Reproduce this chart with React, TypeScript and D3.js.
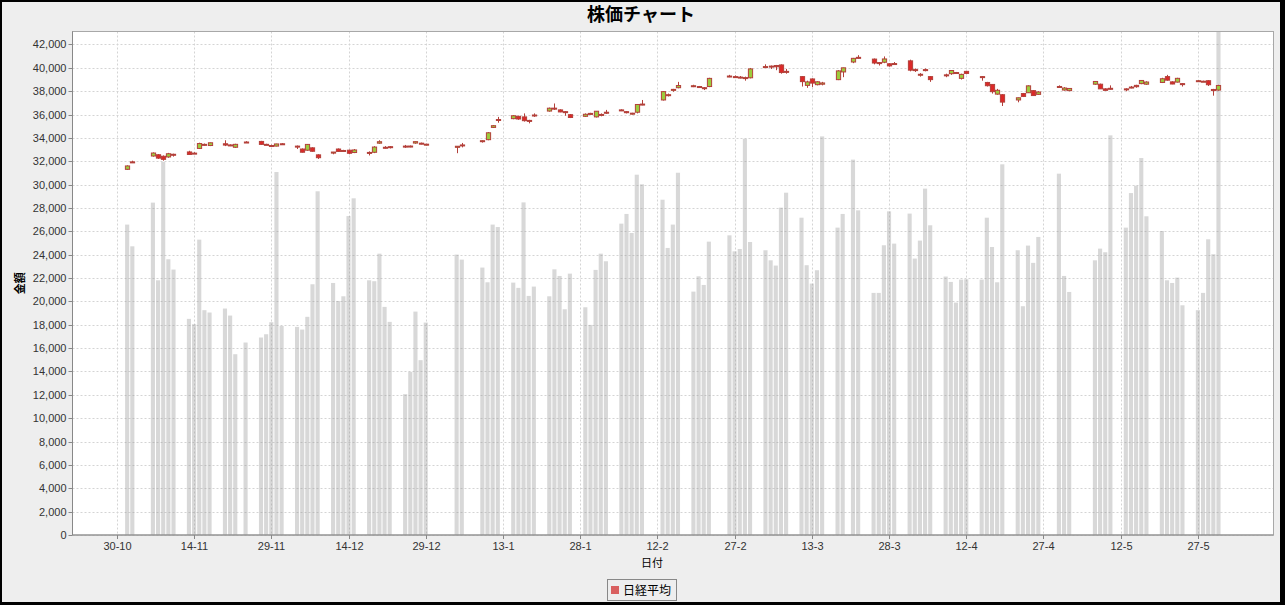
import React from "react";
import * as d3 from "d3";

// ---- data (Nikkei average, daily) ----
const dates = [
  "2023-11-01","2023-11-02","2023-11-06","2023-11-07","2023-11-08","2023-11-09","2023-11-10",
  "2023-11-13","2023-11-14","2023-11-15","2023-11-16","2023-11-17","2023-11-20","2023-11-21","2023-11-22","2023-11-24",
  "2023-11-27","2023-11-28","2023-11-29","2023-11-30","2023-12-01",
  "2023-12-04","2023-12-05","2023-12-06","2023-12-07","2023-12-08",
  "2023-12-11","2023-12-12","2023-12-13","2023-12-14","2023-12-15",
  "2023-12-18","2023-12-19","2023-12-20","2023-12-21","2023-12-22",
  "2023-12-25","2023-12-26","2023-12-27","2023-12-28","2023-12-29",
  "2024-01-04","2024-01-05","2024-01-09","2024-01-10","2024-01-11","2024-01-12",
  "2024-01-15","2024-01-16","2024-01-17","2024-01-18","2024-01-19",
  "2024-01-22","2024-01-23","2024-01-24","2024-01-25","2024-01-26",
  "2024-01-29","2024-01-30","2024-01-31","2024-02-01","2024-02-02",
  "2024-02-05","2024-02-06","2024-02-07","2024-02-08","2024-02-09",
  "2024-02-13","2024-02-14","2024-02-15","2024-02-16",
  "2024-02-19","2024-02-20","2024-02-21","2024-02-22",
  "2024-02-26","2024-02-27","2024-02-28","2024-02-29","2024-03-01",
  "2024-03-04","2024-03-05","2024-03-06","2024-03-07","2024-03-08",
  "2024-03-11","2024-03-12","2024-03-13","2024-03-14","2024-03-15",
  "2024-03-18","2024-03-19","2024-03-21","2024-03-22",
  "2024-03-25","2024-03-26","2024-03-27","2024-03-28","2024-03-29",
  "2024-04-01","2024-04-02","2024-04-03","2024-04-04","2024-04-05",
  "2024-04-08","2024-04-09","2024-04-10","2024-04-11","2024-04-12",
  "2024-04-15","2024-04-16","2024-04-17","2024-04-18","2024-04-19",
  "2024-04-22","2024-04-23","2024-04-24","2024-04-25","2024-04-26",
  "2024-04-30","2024-05-01","2024-05-02",
  "2024-05-07","2024-05-08","2024-05-09","2024-05-10",
  "2024-05-13","2024-05-14","2024-05-15","2024-05-16","2024-05-17",
  "2024-05-20","2024-05-21","2024-05-22","2024-05-23","2024-05-24",
  "2024-05-27","2024-05-28","2024-05-29","2024-05-30","2024-05-31",
];

const opens = [
  31311,31950,32450,32560,32430,32370,32600,
  32800,32700,33100,33450,33350,33500,33400,33200,33650,
  33700,33450,33350,33300,33500,
  33300,33050,32950,33150,32550,
  32700,33050,32900,32950,32750,
  32750,32770,33550,33200,33250,
  33300,33300,33560,33550,33450,
  33193,33400,33700,33850,34900,35500,
  35650,35850,35800,35500,35900,
  36300,36550,36400,36250,35990,
  35850,36100,35800,36000,36200,
  36400,36250,36100,36200,36900,
  37250,37700,38100,38300,
  38450,38400,38300,38400,
  39300,39250,39200,39100,39150,
  40100,40150,40200,40250,39700,
  39250,38500,39050,38560,38600,
  38990,39650,40500,40900,
  40750,40450,40480,40350,40350,
  40600,39850,39450,39850,39250,
  39400,39500,39600,39100,39700,
  39250,38750,38580,37750,37700,
  37250,37800,37870,38050,37730,
  38400,38100,38050,
  38600,38600,38200,38250,
  38200,38350,38500,38650,38600,
  38750,39250,38800,38780,38650,
  38850,38850,38900,38150,38100,
];

const highs = [
  31650,32050,32760,32620,32500,32720,32650,
  32900,32780,33590,33520,33600,33800,33450,33500,33720,
  33750,33500,33420,33500,33550,
  33350,33100,33480,33200,32600,
  32800,33100,32980,33000,33050,
  32850,33290,33800,33300,33300,
  33400,33350,33700,33600,33500,
  33300,33570,33800,34500,35100,35800,
  35950,35900,36100,35550,36100,
  36600,36950,36450,36300,36050,
  36100,36150,36300,36100,36400,
  36450,36300,36150,36900,37250,
  38000,37800,38200,38800,
  38550,38450,38350,39150,
  39400,39350,39300,39250,39990,
  40300,40200,40250,40300,39900,
  39300,38900,39100,38850,38800,
  39800,40010,40850,41087,
  40800,40500,40980,40400,40500,
  40700,39950,39550,39950,39300,
  39500,39800,39650,39500,39750,
  39300,38800,38600,38200,37750,
  37450,37850,38500,38100,38000,
  38500,38350,38270,
  38850,38650,38250,38500,
  38250,38450,38550,38950,38850,
  39150,39400,38850,39150,38700,
  38950,38900,38950,38200,38550,
];

const lows = [
  31270,31850,32400,32200,32050,32300,32400,
  32550,32650,33050,33350,33300,33300,33300,33150,33580,
  33400,33380,33280,33280,33400,
  33050,32750,32900,32820,32200,
  32600,32800,32850,32600,32700,
  32500,32700,33500,33100,33100,
  33150,33200,33500,33450,33350,
  32693,33190,33600,33800,34850,35300,
  35600,35550,35400,35250,35800,
  36250,36400,36200,35900,35700,
  35800,36000,35750,35850,36050,
  36300,36100,36000,36100,36800,
  37200,37550,37950,38250,
  38350,38300,38100,38350,
  39200,39150,39100,38900,39100,
  40000,39900,39800,39500,39500,
  38400,38290,38350,38500,38500,
  38950,39200,40400,40800,
  40300,40200,40400,40100,40300,
  39700,39650,39250,39700,38800,
  39200,39400,39500,39000,39450,
  38900,38400,37800,37700,36733,
  37050,37500,37850,37600,37700,
  38300,38050,38000,
  38550,38200,38050,38150,
  38000,38250,38300,38600,38550,
  38700,38900,38600,38750,38400,
  38800,38800,38450,37617,38050,
];

const closes = [
  31601,31949,32708,32271,32166,32646,32568,
  32585,32695,33519,33424,33585,33388,33354,33451,33625,
  33447,33408,33321,33486,33431,
  33231,32775,33445,32858,32307,
  32791,32843,32926,32686,32970,
  32758,33219,33675,33140,33169,
  33254,33305,33681,33539,33464,
  33288,33377,33763,34441,35049,35577,
  35901,35619,35477,35466,35963,
  36546,36517,36226,36236,35751,
  36026,36065,36286,36011,36158,
  36354,36160,36119,36863,36897,
  37963,37703,38157,38487,
  38470,38363,38262,39098,
  39233,39239,39208,39166,39910,
  40109,40097,40090,39598,39688,
  38820,38797,38695,38807,38707,
  39740,40003,40815,40888,
  40414,40398,40762,40168,40369,
  39803,39838,39451,39773,38992,
  39347,39773,39581,39442,39523,
  39232,38471,37961,38079,37068,
  37438,37552,38460,37628,37934,
  38405,38274,38236,
  38835,38202,38073,38229,
  38179,38356,38385,38920,38787,
  39069,38946,38617,39103,38646,
  38900,38855,38556,38054,38487,
];

const volumes = [
  26580,24720,28460,21810,31950,23610,22730,
  18505,18050,25290,19250,19050,19390,18790,15480,16480,
  16910,17190,18220,31080,17900,
  17820,17590,18680,21470,29430,
  21580,20040,20440,27310,28830,
  21810,21730,24090,19530,18250,
  12060,13970,19130,14970,18190,
  24010,23580,22900,21640,26580,26370,
  21610,21160,28480,20470,21270,
  20440,22750,22180,19330,22380,
  19500,17990,22700,24090,23440,
  26660,27490,25860,30850,30030,
  28710,24580,26580,31020,
  20840,22150,21410,25120,
  25660,24290,24490,33930,25090,
  24380,23520,23070,28030,29310,
  27170,23100,21530,22670,34130,
  26320,27490,32140,27800,
  20730,20730,24810,27710,24950,
  27520,23670,25210,29660,26520,
  22130,21670,19900,21870,21900,
  21870,27170,24660,21640,31740,
  24380,19590,24780,23300,25520,
  30940,22180,20810,
  23520,24520,24210,34220,
  26320,29280,29910,32280,27290,
  26030,21810,21580,22040,19670,
  19250,20730,25320,24040,46000,
];

const xTickDates = [
  "2023-10-30","2023-11-14","2023-11-29","2023-12-14","2023-12-29",
  "2024-01-13","2024-01-28","2024-02-12","2024-02-27","2024-03-13",
  "2024-03-28","2024-04-12","2024-04-27","2024-05-12","2024-05-27",
];
const yTicks = d3.range(0, 42001, 2000);

const titleText = "株価チャート";
const yTitle = "金額";
const xTitle = "日付";
const seriesName = "日経平均";

const W = 1285;
const H = 605;
const P = { left: 72.5, top: 31.5, right: 1273.5, bottom: 535 };

const parse = (s: string) => {
  const [yy, mm, dd] = s.split("-").map(Number);
  return new Date(Date.UTC(yy, mm - 1, dd));
};

const UP = "#9ccc3c";
const DOWN = "#dc2828";
const OUTLINE = "#b3403a";
const SANS = "'Liberation Sans', Arial, sans-serif";
const CJK = "'Noto Sans CJK JP', 'Noto Sans', sans-serif";

export default function App() {
  const x = d3
    .scaleUtc()
    .domain([new Date(Date.UTC(2023, 9, 21, 9, 7)), new Date(Date.UTC(2024, 5, 10, 16, 30))])
    .range([P.left, P.right]);
  const y = d3.scaleLinear().domain([0, 43113]).range([P.bottom, P.top]);
  const dayPx = x(parse("2023-10-31")) - x(parse("2023-10-30"));
  const barW = dayPx * 0.8;
  const candleW = dayPx * 0.82;
  const fmtX = d3.utcFormat("%-d-%-m");
  const fmtY = d3.format(",");

  const rows = dates.map((d, i) => ({
    t: parse(d),
    o: opens[i],
    h: highs[i],
    l: lows[i],
    c: closes[i],
    v: volumes[i],
  }));

  return (
    <div style={{ position: "fixed", left: 0, top: 0, width: W, height: H }}>
      <svg width={W} height={H} style={{ display: "block" }}>
        <defs>
          <clipPath id="plotClip">
            <rect x={P.left} y={P.top} width={P.right - P.left} height={P.bottom - P.top} />
          </clipPath>
        </defs>
        <rect x={0} y={0} width={W} height={H} fill="#000" />
        <rect x={2} y={2} width={W - 7} height={H - 5} fill="#eeeeee" />
        <text x={641} y={21} textAnchor="middle" fontFamily={CJK} fontWeight="bold" fontSize={18} fill="#000">
          {titleText}
        </text>
        <rect x={P.left} y={P.top} width={P.right - P.left} height={P.bottom - P.top} fill="#fff" />

        {/* grid */}
        <g stroke="#d4d4d4" strokeWidth={1} strokeDasharray="2,2">
          {yTicks.map((v) => (
            <line key={"gy" + v} x1={P.left} x2={P.right} y1={Math.round(y(v)) + 0.5} y2={Math.round(y(v)) + 0.5} />
          ))}
          {xTickDates.map((d) => (
            <line key={"gx" + d} x1={Math.round(x(parse(d))) + 0.5} x2={Math.round(x(parse(d))) + 0.5} y1={P.top} y2={P.bottom} />
          ))}
        </g>

        <g clipPath="url(#plotClip)">
          {/* volume bars */}
          {rows.map((r, i) => (
            <rect
              key={"v" + i}
              x={x(r.t) - barW / 2}
              y={y(r.v)}
              width={barW}
              height={y(0) - y(r.v)}
              fill="rgb(150,150,150)"
              fillOpacity={0.37}
            />
          ))}
          {/* candles */}
          {rows.map((r, i) => {
            const cx = Math.round(x(r.t)) + 0.5;
            const top = y(Math.max(r.o, r.c));
            const bot = y(Math.min(r.o, r.c));
            const bh = Math.max(bot - top, 1);
            return (
              <g key={"c" + i}>
                <line x1={cx} x2={cx} y1={y(r.h)} y2={y(r.l)} stroke={OUTLINE} strokeWidth={1} />
                <rect
                  x={cx - candleW / 2}
                  y={top}
                  width={candleW}
                  height={bh}
                  fill={r.c >= r.o ? UP : DOWN}
                  stroke={OUTLINE}
                  strokeWidth={1}
                />
              </g>
            );
          })}
        </g>

        {/* plot outline */}
        <rect x={P.left} y={P.top} width={P.right - P.left} height={P.bottom - P.top} fill="none" stroke="#a8a8a8" strokeWidth={1} />
        <line x1={P.left} x2={P.left} y1={P.top} y2={P.bottom} stroke="#888" />
        <line x1={P.left} x2={P.right} y1={P.bottom} y2={P.bottom} stroke="#888" />

        {/* y axis */}
        {yTicks.map((v) => (
          <g key={"yt" + v}>
            <line x1={P.left - 4} x2={P.left} y1={Math.round(y(v)) + 0.5} y2={Math.round(y(v)) + 0.5} stroke="#888" />
            <text x={P.left - 6} y={y(v) + 4} textAnchor="end" fontFamily={SANS} fontSize={11} fill="#333">
              {fmtY(v)}
            </text>
          </g>
        ))}
        <text
          transform={`translate(24,${(P.top + P.bottom) / 2}) rotate(-90)`}
          textAnchor="middle"
          fontFamily={CJK}
          fontWeight="bold"
          fontSize={11}
          fill="#000"
        >
          {yTitle}
        </text>

        {/* x axis */}
        {xTickDates.map((d) => {
          const px = Math.round(x(parse(d))) + 0.5;
          return (
            <g key={"xt" + d}>
              <line x1={px} x2={px} y1={P.bottom} y2={P.bottom + 4} stroke="#888" />
              <text x={px} y={P.bottom + 15} textAnchor="middle" fontFamily={SANS} fontSize={11} fill="#333">
                {fmtX(parse(d))}
              </text>
            </g>
          );
        })}
        <text x={652} y={567} textAnchor="middle" fontFamily={CJK} fontSize={11} fill="#000">
          {xTitle}
        </text>

        {/* legend */}
        <rect x={607.5} y={579.5} width={69} height={21} fill="#eeeeee" stroke="#888" />
        <rect x={611} y={586} width={8} height={8} fill="#d96060" />
        <text x={623} y={595} fontFamily={CJK} fontSize={12} fill="#000">
          {seriesName}
        </text>
      </svg>
    </div>
  );
}
